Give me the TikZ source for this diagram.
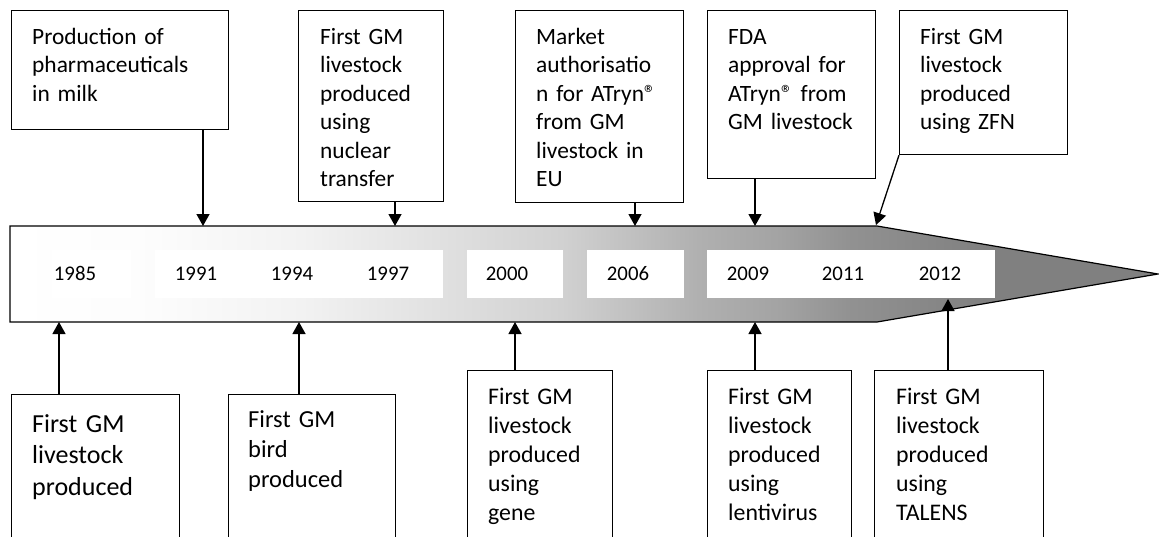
\documentclass[tikz,border=0pt]{standalone}
\usepackage{fontspec}
\setmainfont{Carlito}
\usetikzlibrary{arrows.meta}
\pgfdeclarehorizontalshading{barshade}{100bp}{rgb(0bp)=(1,1,1); rgb(25bp)=(1,1,1); rgb(31bp)=(0.99,0.99,0.99); rgb(37.6bp)=(0.95,0.95,0.95); rgb(42bp)=(0.9,0.9,0.9); rgb(49bp)=(0.82,0.82,0.82); rgb(55bp)=(0.69,0.69,0.69); rgb(58.5bp)=(0.64,0.64,0.64); rgb(61.6bp)=(0.57,0.57,0.57); rgb(67.7bp)=(0.5,0.5,0.5); rgb(100bp)=(0.5,0.5,0.5)}
\begin{document}
\begin{tikzpicture}[x=1pt,y=-1pt,
  box/.style={draw, line width=1.2pt, inner sep=0pt, anchor=north west},
  txt/.style={inner sep=0pt, anchor=base west, align=left, text width=220pt, font={\fontsize{23.4}{28.5}\selectfont}},
  txtA/.style={txt, font={\fontsize{26}{31.5}\selectfont}},
  txtB/.style={txt, font={\fontsize{24.5}{30}\selectfont}},
  txtC/.style={txt, font={\fontsize{23.8}{29}\selectfont}},
  year/.style={inner sep=0pt, anchor=base, font={\fontsize{20.8}{24}\selectfont}},
  yearbg/.style={fill=white, draw=none},
  arr/.style={line width=1.3pt, -{Triangle[width=13pt,length=12pt]}}]
\useasboundingbox (0,0) rectangle (1159,536);
\clip (0,0) rectangle (1159,536);

% timeline bar
\shadedraw[shading=barshade, line width=1.2pt, line join=miter] (10,226) -- (877,226) -- (1158,274) -- (877,322) -- (10,322) -- cycle;
\fill[yearbg] (52,250) rectangle (131,298);
\fill[yearbg] (155,250) rectangle (443,298);
\fill[yearbg] (467,250) rectangle (563,298);
\fill[yearbg] (587,250) rectangle (684,298);
\fill[yearbg] (707,250) rectangle (995,298);

\node[year] (y1985) at (75,280) {1985};
\node[year] (y1991) at (196,280) {1991};
\node[year] (y1994) at (292,280) {1994};
\node[year] (y1997) at (388,280) {1997};
\node[year] (y2000) at (507,280) {2000};
\node[year] (y2006) at (628,280) {2006};
\node[year] (y2009) at (748,280) {2009};
\node[year] (y2011) at (843,280) {2011};
\node[year] (y2012) at (940,280) {2012};

% anchor points on the bar
\coordinate (a1991) at (203,226);
\coordinate (a1997) at (395,226);
\coordinate (a2006) at (635,226);
\coordinate (a2009t) at (755,226);
\coordinate (kinktop) at (876,225);
\coordinate (a1985) at (59,322);
\coordinate (a1994) at (299,322);
\coordinate (a2000) at (515,322);
\coordinate (a2009b) at (755,322);
\coordinate (a2012) at (948,299);

% top boxes
\node[box, minimum width=217pt, minimum height=119pt] (t1) at (11,10) {};
\node[txt] (t1t) at (32,44) {Production of\\pharmaceuticals\\in milk};
\node[box, minimum width=145pt, minimum height=191pt] (t2) at (298,10) {};
\node[txt] (t2t) at (320,44) {First GM\\livestock\\produced\\using\\nuclear\\transfer};
\node[box, minimum width=168pt, minimum height=192pt] (t3) at (515,10) {};
\node[txt] (t3t) at (536,44) {Market\\authorisatio\\n for ATryn®\\from GM\\livestock in\\EU};
\node[box, minimum width=168pt, minimum height=168pt] (t4) at (707,10) {};
\node[txt] (t4t) at (728,44) {FDA\\approval for\\ATryn® from\\GM livestock};
\node[box, minimum width=168pt, minimum height=144pt] (t5) at (899,10) {};
\node[txt] (t5t) at (920,44) {First GM\\livestock\\produced\\using ZFN};

% bottom boxes
\node[box, minimum width=168pt, minimum height=180pt] (b1) at (11,394) {};
\node[txtA] (b1t) at (32,432) {First GM\\livestock\\produced};
\node[box, minimum width=167pt, minimum height=180pt] (b2) at (228,394) {};
\node[txtB] (b2t) at (248,427) {First GM\\bird\\produced};
\node[box, minimum width=145pt, minimum height=200pt] (b3) at (467,370) {};
\node[txtC] (b3t) at (488,404) {First GM\\livestock\\produced\\using\\gene};
\node[box, minimum width=144pt, minimum height=200pt] (b4) at (707,370) {};
\node[txtC] (b4t) at (728,404) {First GM\\livestock\\produced\\using\\lentivirus};
\node[box, minimum width=169pt, minimum height=200pt] (b5) at (874,370) {};
\node[txtC] (b5t) at (896,404) {First GM\\livestock\\produced\\using\\TALENS};

% connectors
\draw[arr] (t1.south -| a1991) -- (a1991);
\draw[arr] (t2.south -| a1997) -- (a1997);
\draw[arr] (t3.south -| a2006) -- (a2006);
\draw[arr] (t4.south -| a2009t) -- (a2009t);
\draw[arr] (t5.south west) -- (kinktop);
\draw[arr] (b1.north -| a1985) -- (a1985);
\draw[arr] (b2.north -| a1994) -- (a1994);
\draw[arr] (b3.north -| a2000) -- (a2000);
\draw[arr] (b4.north -| a2009b) -- (a2009b);
\draw[arr] (b5.north -| a2012) -- (a2012);
\end{tikzpicture}
\end{document}
